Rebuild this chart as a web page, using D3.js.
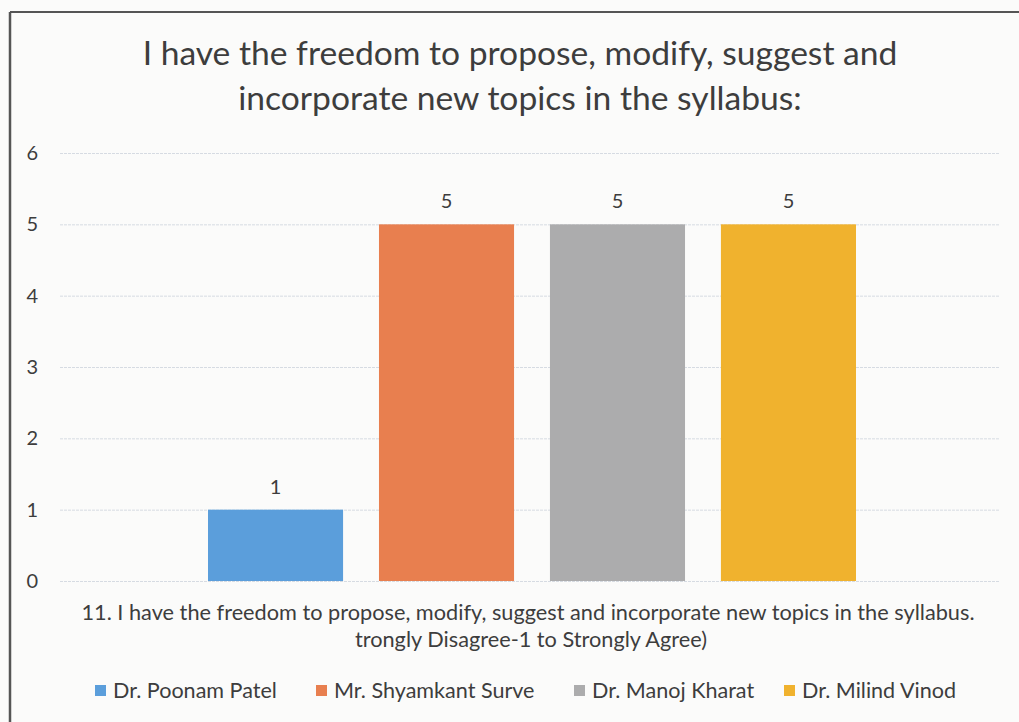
<!DOCTYPE html>
<html>
<head>
<meta charset="utf-8">
<script src="https://cdn.jsdelivr.net/npm/d3@7"></script>
<style>
  html, body { margin: 0; padding: 0; background: #fbfbfa; }
  svg { display: block; }
  text { font-family: Lato, "Open Sans", sans-serif; fill: #3d3d3d; }
</style>
</head>
<body>
<svg id="chart" width="1019" height="722"></svg>
<script>
const titleLines = ["I have the freedom to propose, modify, suggest and", "incorporate new topics in the syllabus:"];
const axisTitleLines = ["11. I have the freedom to propose, modify, suggest and incorporate new topics in the syllabus.", "trongly Disagree-1 to Strongly Agree)"];
const seriesNames = ["Dr. Poonam Patel", "Mr. Shyamkant Surve", "Dr. Manoj Kharat", "Dr. Milind Vinod"];
const seriesValues = [1, 5, 5, 5];
const seriesColors = ["#5b9edb", "#e87f4f", "#acacad", "#f0b22e"];
const yTicks = [0, 1, 2, 3, 4, 5, 6];

const svg = d3.select("#chart");

// frame lines (scan border)
svg.append("line").attr("x1", 10).attr("x2", 1019).attr("y1", 12).attr("y2", 12)
  .attr("stroke", "#555").attr("stroke-width", 2);
svg.append("line").attr("x1", 10).attr("x2", 10).attr("y1", 12).attr("y2", 722)
  .attr("stroke", "#555").attr("stroke-width", 2.5);

const plot = { left: 60, right: 1000, top: 153, bottom: 581 };

const y = d3.scaleLinear().domain([0, 6]).range([plot.bottom, plot.top]);
const x = d3.scaleBand().domain(seriesNames).range([208, 856]).paddingInner(0.21).paddingOuter(0);

function fit(sel, width) {
  const w = sel.node().getComputedTextLength();
  const fs = parseFloat(sel.attr("font-size"));
  sel.attr("font-size", (fs * width / w).toFixed(2));
}

// title
const t1 = svg.append("text").attr("x", 520).attr("y", 65).attr("text-anchor", "middle")
  .attr("font-size", 28).text(titleLines[0]);
fit(t1, 755);
const t2 = svg.append("text").attr("x", 520).attr("y", 110).attr("text-anchor", "middle")
  .attr("font-size", 28).text(titleLines[1]);
t2.attr("font-size", t1.attr("font-size"));

// gridlines
const yAxis = d3.axisLeft(y).tickValues(yTicks).tickSize(-(plot.right - plot.left)).tickPadding(22).tickFormat(d3.format("d"));
const gAxis = svg.append("g").attr("transform", `translate(${plot.left},0)`).call(yAxis);
gAxis.select(".domain").remove();
gAxis.selectAll(".tick line").attr("stroke", "#d6dbe2").attr("stroke-width", 1).attr("stroke-dasharray", "3,1");
gAxis.selectAll(".tick text").attr("font-size", 20).attr("fill", "#3d3d3d")
  .style("font-family", "Lato, 'Open Sans', sans-serif");

// bars
svg.append("g").selectAll("rect").data(seriesNames).join("rect")
  .attr("x", d => x(d))
  .attr("width", x.bandwidth())
  .attr("y", (d, i) => y(seriesValues[i]))
  .attr("height", (d, i) => y(0) - y(seriesValues[i]))
  .attr("fill", (d, i) => seriesColors[i]);

// data labels
svg.append("g").selectAll("text").data(seriesNames).join("text")
  .attr("x", d => x(d) + x.bandwidth() / 2)
  .attr("y", (d, i) => y(seriesValues[i]) - 16)
  .attr("text-anchor", "middle")
  .attr("font-size", 20)
  .text((d, i) => seriesValues[i]);

// axis title
const a1 = svg.append("text").attr("x", 528).attr("y", 620).attr("text-anchor", "middle")
  .attr("font-size", 18).text(axisTitleLines[0]);
fit(a1, 893);
svg.append("text").attr("x", 531).attr("y", 647).attr("text-anchor", "middle")
  .attr("font-size", a1.attr("font-size")).text(axisTitleLines[1]);

// legend
const legendX = [95, 316, 574, 784];
const lg = svg.append("g").selectAll("g").data(seriesNames).join("g")
  .attr("transform", (d, i) => `translate(${legendX[i]},691)`);
lg.append("rect").attr("x", 0).attr("y", -6).attr("width", 11).attr("height", 11)
  .attr("fill", (d, i) => seriesColors[i]);
const lt = lg.append("text").attr("x", 18).attr("y", 7).attr("font-size", 18).text(d => d);
fit(d3.select(lt.nodes()[0]), 164);
lt.attr("font-size", d3.select(lt.nodes()[0]).attr("font-size"));
</script>
</body>
</html>
